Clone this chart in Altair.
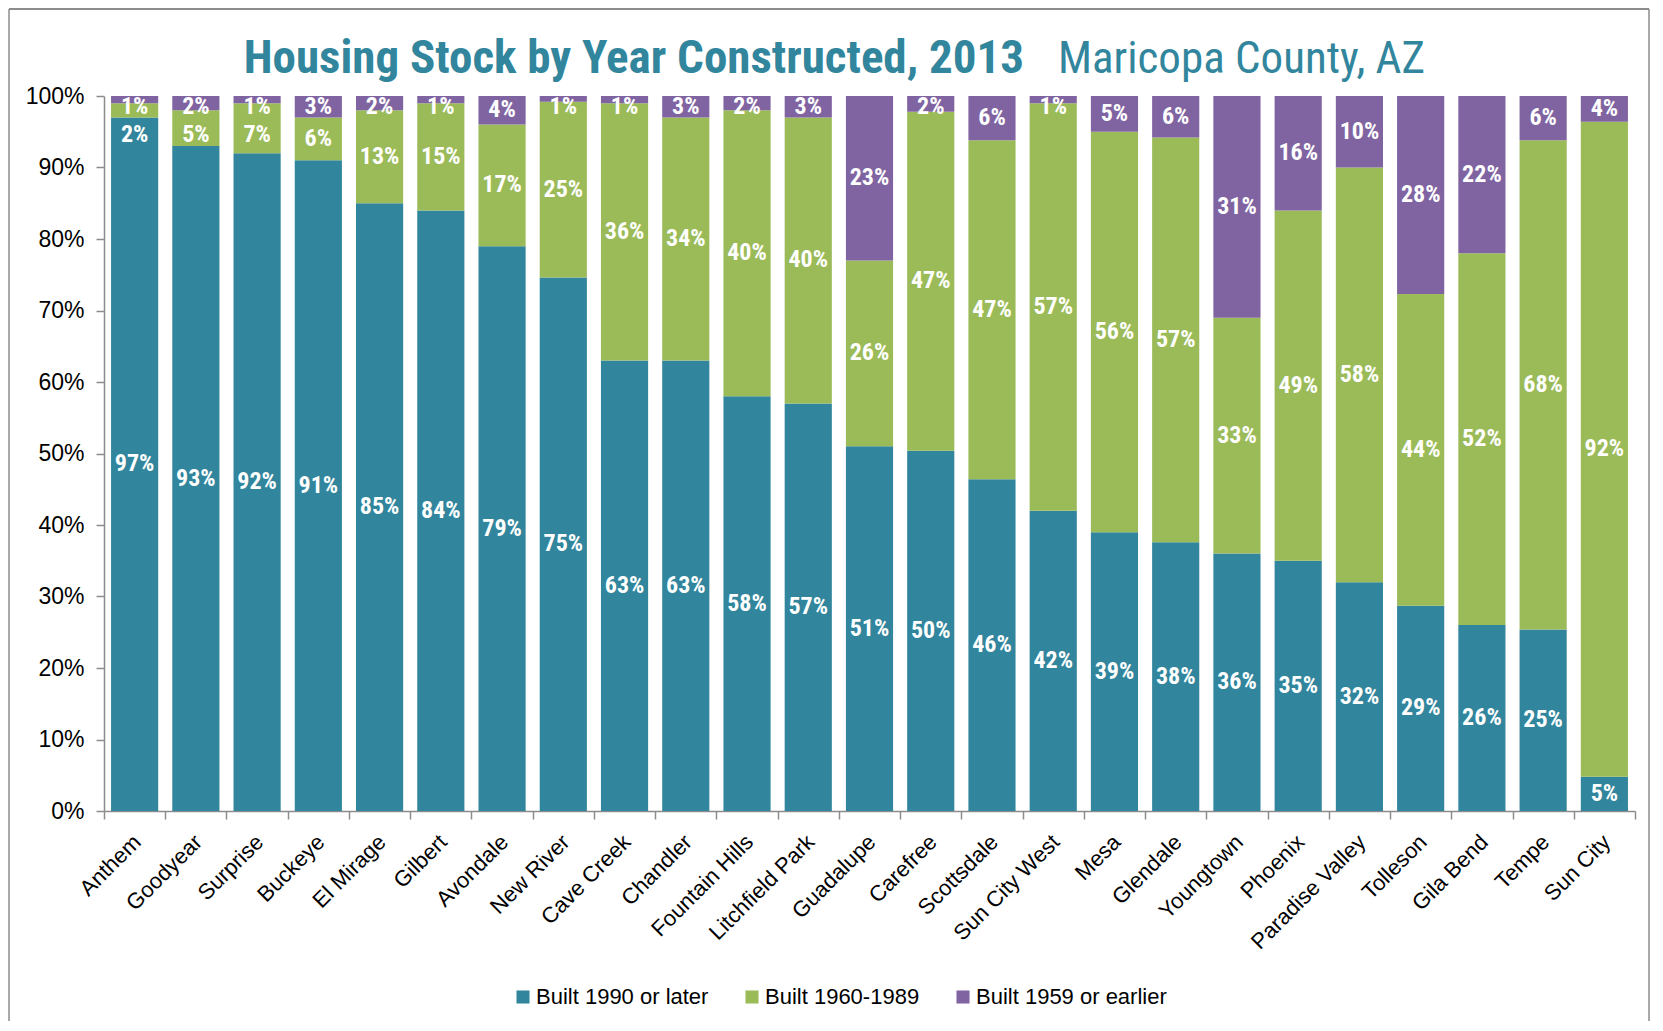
import altair as alt
import pandas as pd

# ---------------- data (percent of housing stock) ----------------
categories = ["Anthem", "Goodyear", "Surprise", "Buckeye", "El Mirage", "Gilbert",
              "Avondale", "New River", "Cave Creek", "Chandler", "Fountain Hills",
              "Litchfield Park", "Guadalupe", "Carefree", "Scottsdale", "Sun City West",
              "Mesa", "Glendale", "Youngtown", "Phoenix", "Paradise Valley", "Tolleson",
              "Gila Bend", "Tempe", "Sun City"]
built_1990_later = [97, 93, 92, 91, 85, 84, 79, 74.6, 63, 63, 58, 57, 51, 50.4, 46.4, 42,
                    39, 37.6, 36, 35, 32, 28.7, 26, 25.4, 4.8]
built_1960_1989 = [2, 5, 7, 6, 13, 15, 17, 24.6, 36, 34, 40, 40, 26, 47.4, 47.4, 57,
                   56, 56.6, 33, 49, 58, 43.6, 52, 68.4, 91.6]
built_1959_earlier = [1, 2, 1, 3, 2, 1, 4, 0.8, 1, 3, 2, 3, 23, 2.2, 6.2, 1,
                      5, 5.8, 31, 16, 10, 27.7, 22, 6.2, 3.6]
series_names = ["Built 1990 or later", "Built 1960-1989", "Built 1959 or earlier"]
series_colors = ["#31859C", "#9BBB59", "#8064A2"]
y_ticks = [0, 0.1, 0.2, 0.3, 0.4, 0.5, 0.6, 0.7, 0.8, 0.9, 1.0]
title_main = "Housing Stock by Year Constructed, 2013"
title_sub = "Maricopa County, AZ"

NARROW = "Roboto Condensed, DejaVu Sans Condensed, sans-serif"
REG = "Liberation Sans, Arial, sans-serif"

rows = []
for i, cat in enumerate(categories):
    vals = [built_1990_later[i], built_1960_1989[i], built_1959_earlier[i]]
    starts = [0, vals[0], vals[0] + vals[1]]
    centers = [s + v / 2 for s, v in zip(starts, vals)]
    # keep labels inside the plot and away from each other (like the spreadsheet does)
    lp = [0, 0, 0]
    lp[2] = min(centers[2], 98.4)
    lp[1] = min(centers[1], lp[2] - 3.8)
    lp[0] = min(centers[0], lp[1] - 3.8)
    for k in range(3):
        rows.append(dict(category=cat, series=series_names[k], order=k,
                         value=vals[k] / 100, label=f"{round(vals[k])}%",
                         label_y=lp[k] / 100))
df = pd.DataFrame(rows)

W, H = 1531, 715

x_enc = alt.X("category:N", sort=categories, title=None,
              scale=alt.Scale(paddingInner=0, paddingOuter=0),
              axis=alt.Axis(labelAngle=-45, labelFontSize=22, labelFont=REG,
                            labelColor="#000000", tickBand="extent", tickSize=8,
                            tickColor="#8C8C8C", domainColor="#8C8C8C",
                            domainWidth=1.5, tickWidth=1.5, labelPadding=12,
                            labelOffset=-5, labelLimit=0))

bars = alt.Chart(df).mark_bar(width=alt.RelativeBandSize(0.77)).encode(
    x=x_enc,
    y=alt.Y("value:Q", stack="zero", title=None,
            scale=alt.Scale(domain=[0, 1], nice=False),
            axis=alt.Axis(values=y_ticks, format=".0%", labelFontSize=23,
                          labelFont=REG, labelColor="#000000", grid=False,
                          tickSize=8, labelPadding=12, tickColor="#8C8C8C",
                          domainColor="#8C8C8C", domainWidth=1.5, tickWidth=1.5)),
    color=alt.Color("series:N", sort=series_names,
                    scale=alt.Scale(domain=series_names, range=series_colors),
                    legend=alt.Legend(title=None, orient="none", direction="horizontal",
                                      legendX=408, legendY=890, labelFontSize=22,
                                      labelFont=REG, labelColor="#000000",
                                      symbolType="square", symbolSize=170,
                                      symbolStrokeWidth=0, columnPadding=32,
                                      labelOffset=2, labelLimit=0)),
    order=alt.Order("order:Q"),
)

labels = alt.Chart(df).mark_text(color="white", font=NARROW, fontWeight="bold",
                                 fontSize=24, baseline="middle").encode(
    x=alt.X("category:N", sort=categories),
    y=alt.Y("label_y:Q"),
    text="label:N",
)

title_df = pd.DataFrame({"main": [title_main], "sub": [title_sub]})
t_main = alt.Chart(title_df).mark_text(font=NARROW, fontWeight="bold", fontSize=47,
                                       color="#31859C", align="right",
                                       baseline="alphabetic").encode(
    x=alt.value(920), y=alt.value(-23), text="main:N")
t_sub = alt.Chart(title_df).mark_text(font=NARROW, fontSize=45, color="#31859C",
                                      align="left", baseline="alphabetic").encode(
    x=alt.value(954), y=alt.value(-23), text="sub:N")

frame_df = pd.DataFrame({"f": [0]})
frame_col = "#8C8C8C"
f_top = alt.Chart(frame_df).mark_rule(color=frame_col, strokeWidth=2).encode(
    x=alt.value(-95), x2=alt.value(1545), y=alt.value(-87))
f_left = alt.Chart(frame_df).mark_rule(color=frame_col, strokeWidth=1.5).encode(
    x=alt.value(-95), y=alt.value(-87), y2=alt.value(930))
f_right = alt.Chart(frame_df).mark_rule(color=frame_col, strokeWidth=1.5).encode(
    x=alt.value(1545), y=alt.value(-87), y2=alt.value(930))

chart = alt.layer(bars, labels, t_main, t_sub, f_top, f_left, f_right).properties(
    width=W, height=H,
    autosize=alt.AutoSizeParams(type="none"),
    padding={"left": 96, "top": 88, "right": 16, "bottom": 210},
).configure_view(stroke=None)

chart.save("out.html", embed_options={"renderer": "svg", "actions": False})
